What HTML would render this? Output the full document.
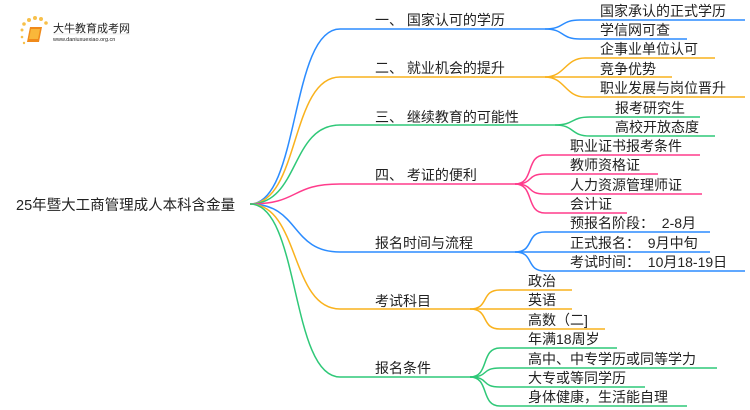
<!DOCTYPE html>
<html><head><meta charset="utf-8"><style>
html,body{margin:0;padding:0;background:#fff;}
svg{display:block;}
text{font-family:"Liberation Sans","Noto Sans CJK SC",sans-serif;fill:#222;}
</style></head><body>
<svg width="750" height="410" viewBox="0 0 750 410" xmlns="http://www.w3.org/2000/svg">
<g>
<circle cx="22" cy="30" r="1.5" fill="#f7c04a"/><circle cx="24" cy="24" r="1.8" fill="#f7c04a"/><circle cx="29" cy="20" r="2" fill="#f7c04a"/><circle cx="35" cy="18" r="2" fill="#f7c04a"/><circle cx="41" cy="19" r="2" fill="#f7c04a"/><circle cx="46" cy="23" r="1.8" fill="#f7c04a"/><circle cx="22" cy="37" r="1.3" fill="#f7c04a"/><circle cx="24" cy="43" r="1.2" fill="#f7c04a"/>
<path d="M30 27 L42 27 L39 42 L27 42 Z" fill="#f08a1a"/>
<path d="M31 29 L40 29 L38 39 L29 39 Z" fill="#f9b73a"/>
<text x="53" y="32" font-size="11" fill="#333">大牛教育成考网</text>
<line x1="53" y1="34" x2="130" y2="34" stroke="#ddd" stroke-width="0.6"/>
<text x="53" y="41" font-size="5.5" fill="#555">www.daniuxuexiao.org.cn</text>
</g>
<text x="16" y="210" font-size="14.5">25年暨大工商管理成人本科含金量</text>
<g fill="none" stroke-width="1.5">
<path d="M250 204 C300 204 290 29 340 29 L545 29" stroke="#2b8cff"/>
<path d="M250 204 C300 204 290 77 340 77 L545 77" stroke="#f9b21d"/>
<path d="M250 204 C300 204 290 125 340 125 L555 125" stroke="#2fc878"/>
<path d="M250 204 C300 204 290 184 340 184 L515 184" stroke="#ff3c8c"/>
<path d="M250 204 C300 204 290 252 340 252 L515 252" stroke="#2b8cff"/>
<path d="M250 204 C300 204 290 309 340 309 L470 309" stroke="#f9b21d"/>
<path d="M250 204 C300 204 290 377 340 377 L470 377" stroke="#2fc878"/>
<path d="M545 29 C565 29 560 20 580 20 L745 20" stroke="#2b8cff"/>
<path d="M545 29 C565 29 560 39 580 39 L687 39" stroke="#2b8cff"/>
<path d="M545 77 C565 77 565 58 585 58 L715 58" stroke="#f9b21d"/>
<path d="M545 77 L672 77" stroke="#f9b21d"/>
<path d="M545 77 C565 77 565 97 585 97 L745 97" stroke="#f9b21d"/>
<path d="M555 125 C575 125 570 117 590 117 L700 117" stroke="#2fc878"/>
<path d="M555 125 C575 125 570 136 590 136 L715 136" stroke="#2fc878"/>
<path d="M515 184 C535 184 525 155 545 155 L700 155" stroke="#ff3c8c"/>
<path d="M515 184 C535 184 525 174 545 174 L658 174" stroke="#ff3c8c"/>
<path d="M515 184 C535 184 525 194 545 194 L702 194" stroke="#ff3c8c"/>
<path d="M515 184 C535 184 525 213 545 213 L627 213" stroke="#ff3c8c"/>
<path d="M515 252 C535 252 525 232 545 232 L710 232" stroke="#2b8cff"/>
<path d="M515 252 L710 252" stroke="#2b8cff"/>
<path d="M515 252 C535 252 525 271 545 271 L745 271" stroke="#2b8cff"/>
<path d="M470 309 C490 309 480 290 500 290 L572 290" stroke="#f9b21d"/>
<path d="M470 309 L572 309" stroke="#f9b21d"/>
<path d="M470 309 C490 309 480 329 500 329 L605 329" stroke="#f9b21d"/>
<path d="M470 377 C490 377 480 348 500 348 L617 348" stroke="#2fc878"/>
<path d="M470 377 C490 377 480 368 500 368 L717 368" stroke="#2fc878"/>
<path d="M470 377 C490 377 480 387 500 387 L645 387" stroke="#2fc878"/>
<path d="M470 377 C490 377 480 406 500 406 L687 406" stroke="#2fc878"/>
</g>
<g font-size="14">
<text x="375" y="25">一、 国家认可的学历</text>
<text x="375" y="73">二、 就业机会的提升</text>
<text x="375" y="122">三、 继续教育的可能性</text>
<text x="375" y="180">四、 考证的便利</text>
<text x="375" y="248">报名时间与流程</text>
<text x="375" y="306">考试科目</text>
<text x="375" y="373">报名条件</text>
<text x="600" y="16">国家承认的正式学历</text>
<text x="600" y="35">学信网可查</text>
<text x="600" y="54">企事业单位认可</text>
<text x="600" y="74">竞争优势</text>
<text x="600" y="93">职业发展与岗位晋升</text>
<text x="615" y="113">报考研究生</text>
<text x="615" y="132">高校开放态度</text>
<text x="570" y="151">职业证书报考条件</text>
<text x="570" y="170">教师资格证</text>
<text x="570" y="190">人力资源管理师证</text>
<text x="570" y="209">会计证</text>
<text x="570" y="228" xml:space="preserve">预报名阶段：  2-8月</text>
<text x="570" y="248" xml:space="preserve">正式报名：  9月中旬</text>
<text x="570" y="267" xml:space="preserve">考试时间：  10月18-19日</text>
<text x="528" y="286">政治</text>
<text x="528" y="305">英语</text>
<text x="528" y="325">高数（二]</text>
<text x="528" y="344">年满18周岁</text>
<text x="528" y="364">高中、中专学历或同等学力</text>
<text x="528" y="383">大专或等同学历</text>
<text x="528" y="402">身体健康，生活能自理</text>
</g>
</svg>
</body></html>
